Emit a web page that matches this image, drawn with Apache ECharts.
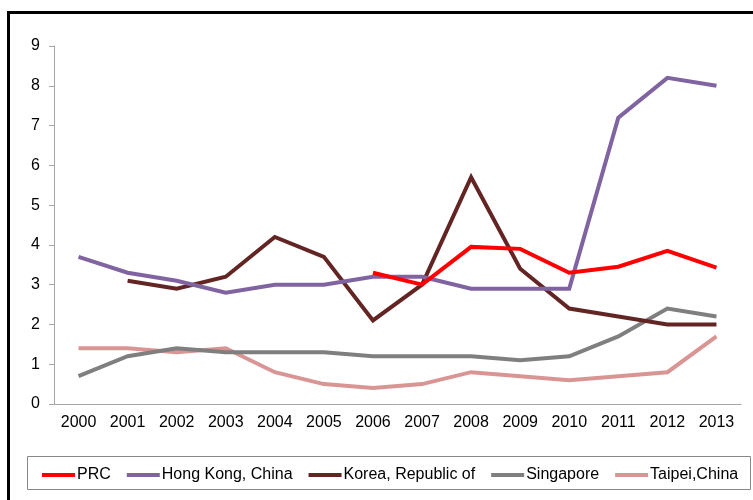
<!DOCTYPE html>
<html>
<head>
<meta charset="utf-8">
<script src="https://cdn.jsdelivr.net/npm/echarts@6/dist/echarts.min.js"></script>
<style>html,body{margin:0;padding:0;background:#fff;}#c{width:753px;height:500px;}</style>
</head>
<body>
<div id="c"></div>
<script>
var years = ['2000','2001','2002','2003','2004','2005','2006','2007','2008','2009','2010','2011','2012','2013'];
var prc = [null,null,null,null,null,null,3.3,3.0,3.95,3.9,3.3,3.45,3.85,3.43];
var hongKong = [3.7,3.3,3.1,2.8,3.0,3.0,3.2,3.2,2.9,2.9,2.9,7.2,8.2,8.0];
var korea = [null,3.1,2.9,3.2,4.2,3.7,2.1,3.0,5.7,3.4,2.4,2.2,2.0,2.0];
var singapore = [0.7,1.2,1.4,1.3,1.3,1.3,1.2,1.2,1.2,1.1,1.2,1.7,2.4,2.2];
var taipei = [1.4,1.4,1.3,1.4,0.8,0.5,0.4,0.5,0.8,0.7,0.6,0.7,0.8,1.7];
var names = ['PRC','Hong Kong, China','Korea, Republic of','Singapore','Taipei,China'];
var colors = ['#ff0000','#8064a2','#632523','#7f7f7f','#d99594'];
var dataSets = [prc, hongKong, korea, singapore, taipei];

var chart = echarts.init(document.getElementById('c'));
var font = 'Liberation Sans, Arial, sans-serif';
chart.setOption({
  animation: false,
  textStyle: {fontFamily: font},
  graphic: [
    {type:'rect', shape:{x:8.5,y:12.5,width:800,height:600}, style:{fill:null, stroke:'#000', lineWidth:3}, silent:true, z:-1},
    {type:'rect', shape:{x:27.5,y:456.5,width:723,height:33}, style:{fill:null, stroke:'#888', lineWidth:1}, silent:true}
  ],
  grid: {left:54, right:12, top:46, bottom:96, containLabel:false},
  legend: {
    left: 42, top: 467, width: 711, padding: 0, itemGap: 16, itemWidth: 33, itemHeight: 4,
    icon: 'rect',
    textStyle: {fontFamily: font, fontSize: 16, color:'#000', padding:[0,0,0,-3]},
    data: names
  },
  xAxis: {
    type:'category', data: years, boundaryGap:true,
    axisLine:{lineStyle:{color:'#a6a6a6'}},
    axisTick:{inside:true, length:5, lineStyle:{color:'#a6a6a6'}},
    axisLabel:{color:'#000', fontSize:16, margin:11, fontFamily:font}
  },
  yAxis: {
    type:'value', min:0, max:9, interval:1,
    axisLine:{show:true, lineStyle:{color:'#a6a6a6'}},
    axisTick:{show:true, length:5, lineStyle:{color:'#a6a6a6'}},
    splitLine:{show:false},
    axisLabel:{color:'#000', fontSize:16, margin:14, fontFamily:font}
  },
  series: dataSets.map(function(d,i){
    return {
      name:names[i], type:'line', data:d, symbol:'none', connectNulls:false,
      lineStyle:{width:4, color:colors[i], join:'miter'}, itemStyle:{color:colors[i]},
      z: [5,4,3,2,1][i]
    };
  })
});
</script>
</body>
</html>
